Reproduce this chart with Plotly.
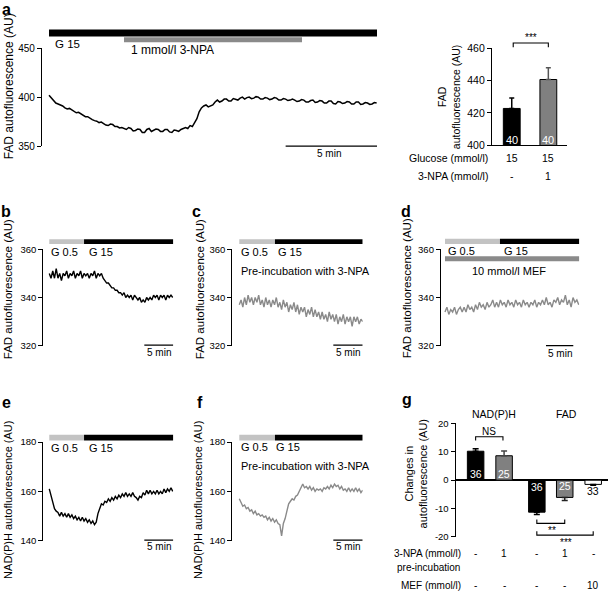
import plotly.graph_objects as go

W, H = 609, 598
FONT = "Liberation Sans, Arial, Helvetica, sans-serif"
BLACK = "#000000"
GREY = "#8a8a8a"
LIGHT = "#c3c3c3"


def fx(p):
    return p / W


def fy(p):
    return 1 - p / H


# ---------------- data ----------------
# Panel a: FAD trace in G15, 1 mmol/l 3-NPA added (sample interval in min)
a_dt = 0.125
a_fad = [402, 399, 397, 394, 393, 392, 391, 389, 388, 388.5,
         387, 385, 384, 384.5, 383, 381, 380, 380, 378, 377,
         376, 375.5, 374, 374.5, 373, 371.5, 371, 372.5, 372, 370,
         370, 368.5, 369, 368, 367, 369, 368, 365.5, 366, 367.5,
         367, 364, 364, 367, 368, 365, 366, 367.5, 367, 365,
         365, 367, 367, 364.5, 364, 366.5, 366, 365, 367, 368,
         369, 368, 371, 370, 374, 378, 385, 389, 391, 392,
         390, 391, 392, 395, 397, 395, 396, 398, 398, 396,
         396, 398.5, 398, 397, 399, 400, 398, 399.5, 400, 398.5,
         399, 400.5, 400, 398, 398, 399.5, 399, 397.5, 398, 399.5,
         399, 397, 397, 398.5, 398, 396.5, 397, 398, 397, 395.5,
         396, 397.5, 397, 395, 395, 396.5, 397, 394.5, 395, 396.5,
         396, 394, 394, 396, 396, 393.5, 393, 395.5, 395, 393.5,
         394, 395.5, 395, 393, 393, 395, 395, 392.5, 393, 394.5,
         394, 392.5, 393, 394.5, 394]
a_g15 = [0.0, 18.02]
a_npa = [4.12, 13.9]
a_scale = [13.0, 18.02]

# Panel a bars
a_bar_mean = [422.7, 440.6]
a_bar_sem = [6.5, 7.2]
a_bar_n = ["40", "40"]
a_glucose = ["15", "15"]
a_npa_row = ["-", "1"]

# Panel b: FAD, G0.5 -> G15
b_dt = 0.3
b_fad = [350, 348, 351, 348, 352, 348, 350, 347, 350, 349,
         351, 348, 350, 349, 351, 348, 350, 349, 351, 348,
         350, 349, 350, 348, 350, 349, 351, 348, 350, 349,
         350, 348, 347, 346, 346, 345, 344, 344, 343, 343,
         342, 342, 341, 342, 340, 341, 340, 341, 339, 341,
         340, 339, 340, 338, 339, 338, 340, 339, 340, 339,
         341, 340, 341, 339, 341, 340, 341, 339, 341, 340,
         341, 340]
b_g05 = [0.0, 6.0]
b_g15 = [6.0, 21.4]
b_scale = [16.4, 21.4]

# Panel c: FAD after pre-incubation with 3-NPA
c_dt = 0.3
c_fad = [337, 339, 336, 340, 337, 341, 338, 340, 337, 340,
         338, 341, 337, 339, 336, 340, 337, 339, 336, 339,
         337, 340, 336, 338, 335, 339, 336, 338, 334, 337,
         335, 338, 334, 337, 333, 336, 334, 336, 332, 335,
         333, 336, 332, 335, 332, 334, 331, 334, 331, 333,
         330, 334, 331, 333, 330, 333, 329, 332, 330, 333,
         329, 332, 330, 332, 328, 332, 330, 332, 329, 331,
         330]
c_g05 = [0.0, 6.07]
c_g15 = [6.07, 21.0]
c_scale = [16.0, 21.0]

# Panel d: FAD with 10 mmol/l MEF
d_dt = 0.35
d_fad = [334, 336, 333, 335, 334, 336, 333, 335, 336, 334,
         336, 334, 337, 335, 336, 334, 337, 335, 338, 336,
         337, 335, 338, 336, 337, 339, 336, 338, 336, 339,
         337, 338, 336, 339, 337, 338, 336, 339, 337, 338,
         336, 339, 337, 338, 336, 338, 337, 339, 336, 338,
         337, 339, 337, 340, 337, 338, 336, 339, 338, 340,
         337, 339, 338, 341, 337, 339, 336, 340, 338, 339,
         337]
d_g05 = [0.0, 10.07]
d_g15 = [10.07, 24.6]
d_mef = [0.0, 24.6]
d_scale = [18.5, 23.5]

# Panel e: NAD(P)H, G0.5 -> G15
e_dt = 0.3
e_nadph = [161, 158, 155, 153, 152, 151.5, 150, 151.5, 150, 151,
           149.5, 151, 149.5, 150.5, 149, 150, 148.5, 149.5, 148, 149.5,
           148, 149, 147.5, 148.5, 147, 148, 146.5, 147.5, 151, 153.5,
           155, 154.5, 156, 155.5, 157, 156, 157.5, 156.5, 158, 157,
           158.5, 157.5, 159, 158, 159.5, 158, 159, 158, 159.5, 158,
           157.5, 156.5, 158, 157.5, 159.5, 158.5, 160.5, 159, 160.5, 159,
           160, 159, 160.5, 159, 160, 159, 161, 159.5, 161, 160,
           161.5, 160]
e_g05 = [0.0, 6.0]
e_g15 = [6.0, 21.4]
e_scale = [16.4, 21.4]

# Panel f: NAD(P)H after pre-incubation with 3-NPA
f_dt = 0.3
f_nadph = [157, 155.5, 154, 154.5, 153, 153.5, 152, 152.5, 151, 152,
           150.5, 151, 150, 150.5, 149.5, 150, 148.5, 149.5, 148, 149,
           147.5, 148.5, 147, 146.5, 142, 147, 149, 152, 155, 156,
           157, 156.5, 158, 158.5, 160, 161, 163, 161.5, 162, 161,
           162, 160.5, 161.5, 160, 161, 160.5, 161, 160, 161.5, 161,
           162, 161, 162.5, 161.5, 163, 162, 162.5, 161, 162, 160.5,
           161, 160, 161.5, 160, 161, 160, 161.5, 160, 161, 159.5,
           160.5]
f_g05 = [0.0, 6.07]
f_g15 = [6.07, 21.0]
f_scale = [16.0, 21.0]

# Panel g: changes in autofluorescence
g_mean = [10.2, 8.6, -11.3, -6.1, -1.5]
g_sem = [0.9, 1.7, 0.8, 1.1, 0.3]
g_n = ["36", "25", "36", "25", "33"]
g_npa_row = ["-", "1", "-", "1", "-"]
g_mef_row = ["-", "-", "-", "-", "10"]
g_ticks = [-20, -10, 0, 10, 20]
g_ticktext = ["-20", "-10", "0", "10", "20"]

# ---------------- styling / layout ----------------
g_pos = [0, 1, 2.15, 3.13, 4.13]
g_fill = [BLACK, "#808080", BLACK, "#808080", "#ffffff"]
g_err_col = [BLACK, "#444444", BLACK, "#222222", BLACK]

fig = go.Figure()


def yax(top, bottom, rng, ticks, anchor, size=9.5, ticktext=None):
    d = dict(domain=[fy(bottom), fy(top)], range=rng, tickvals=ticks,
             showline=True, linecolor=BLACK, linewidth=1.3, ticks="outside",
             ticklen=4, tickwidth=1.3, tickcolor=BLACK, showgrid=False,
             zeroline=False, anchor=anchor, fixedrange=True,
             tickfont=dict(family=FONT, size=size, color=BLACK))
    if ticktext is not None:
        d["ticktext"] = ticktext
    return d


def xax(left, right, rng, anchor, showline=False):
    return dict(domain=[fx(left), fx(right)], range=rng, showline=showline,
                linecolor=BLACK, linewidth=1.3, showticklabels=False,
                ticks="", showgrid=False, zeroline=False, anchor=anchor,
                fixedrange=True)


lay = {}
# a trace
lay["xaxis"] = xax(42, 377, [-0.385, 18.02], "y")
lay["yaxis"] = yax(43, 143, [350, 450], [350, 400, 450], "x", size=10)
# a bars
lay["xaxis2"] = xax(492, 567, [-0.54, 1.51], "y2", showline=True)
lay["yaxis2"] = yax(43, 142, [400, 460], [400, 420, 440, 460], "x2", size=10.5)
# b, c, d
lay["xaxis3"] = xax(43.3, 173.3, [-1.03, 21.4], "y3")
lay["yaxis3"] = yax(248.3, 346.7, [320, 360], [320, 340, 360], "x3")
lay["xaxis4"] = xax(232.3, 362.7, [-1.19, 21.0], "y4")
lay["yaxis4"] = yax(248.3, 346.7, [320, 360], [320, 340, 360], "x4")
lay["xaxis5"] = xax(441, 579.3, [-0.73, 24.6], "y5")
lay["yaxis5"] = yax(248.3, 346.7, [320, 360], [320, 340, 360], "x5")
# e, f
lay["xaxis6"] = xax(43.3, 173.3, [-1.03, 21.4], "y6")
lay["yaxis6"] = yax(445, 545.7, [140, 180], [140, 160, 180], "x6")
lay["xaxis7"] = xax(232.3, 362.7, [-1.19, 21.0], "y7")
lay["yaxis7"] = yax(445, 545.7, [140, 180], [140, 160, 180], "x7")
# g
lay["xaxis8"] = xax(455.7, 608, [-0.70, 4.65], "y8")
lay["yaxis8"] = yax(426, 541.7, [-20, 20], g_ticks, "x8", size=9.5, ticktext=g_ticktext)
lay["yaxis8"]["zeroline"] = True
lay["yaxis8"]["zerolinecolor"] = BLACK
lay["yaxis8"]["zerolinewidth"] = 1.5


def times(dt, vals):
    return [i * dt for i in range(len(vals))]


traces = [
    ("x", "y", a_dt, a_fad, BLACK, 1.5),
    ("x3", "y3", b_dt, b_fad, BLACK, 1.4),
    ("x4", "y4", c_dt, c_fad, GREY, 1.4),
    ("x5", "y5", d_dt, d_fad, GREY, 1.4),
    ("x6", "y6", e_dt, e_nadph, BLACK, 1.4),
    ("x7", "y7", f_dt, f_nadph, GREY, 1.4),
]
for xa, ya, dt, vals, col, lw in traces:
    fig.add_trace(go.Scatter(x=times(dt, vals), y=vals, xaxis=xa, yaxis=ya,
                             mode="lines", line=dict(color=col, width=lw),
                             hoverinfo="skip"))

# panel a bars
a_cols = [BLACK, "#808080"]
a_errc = [BLACK, "#555555"]
for i in range(2):
    fig.add_trace(go.Bar(x=[i], y=[a_bar_mean[i]], xaxis="x2", yaxis="y2", width=0.46,
                         marker=dict(color=a_cols[i], line=dict(color=BLACK, width=1)),
                         error_y=dict(type="data", array=[a_bar_sem[i]], arrayminus=[0],
                                      symmetric=False, color=a_errc[i], thickness=1.5, width=2.5),
                         hoverinfo="skip"))

# panel g bars
for i in range(5):
    up = g_sem[i] if g_mean[i] > 0 else 0
    dn = g_sem[i] if g_mean[i] < 0 else 0
    fig.add_trace(go.Bar(x=[g_pos[i]], y=[g_mean[i]], xaxis="x8", yaxis="y8", width=0.58,
                         marker=dict(color=g_fill[i], line=dict(color=BLACK, width=1)),
                         error_y=dict(type="data", array=[up], arrayminus=[dn],
                                      symmetric=False, color=g_err_col[i], thickness=1.5, width=3),
                         hoverinfo="skip"))

shapes = []


def bar(xref, span, top, bottom, color):
    shapes.append(dict(type="rect", xref=xref, yref="paper", x0=span[0], x1=span[1],
                       y0=fy(bottom), y1=fy(top), fillcolor=color, line=dict(width=0),
                       layer="above"))


def hline(xref, span, ypx, width=1.3):
    shapes.append(dict(type="line", xref=xref, yref="paper", x0=span[0], x1=span[1],
                       y0=fy(ypx), y1=fy(ypx), line=dict(color=BLACK, width=width)))


# stimulus bars
bar("x", a_g15, 24, 31, BLACK)
bar("x", a_npa, 32, 37, GREY)
bar("x3", b_g05, 238, 243, LIGHT)
bar("x3", b_g15, 238, 243, BLACK)
bar("x4", c_g05, 238, 243, LIGHT)
bar("x4", c_g15, 238, 243, BLACK)
bar("x5", d_g05, 237.5, 243, LIGHT)
bar("x5", d_g15, 237.5, 243, BLACK)
bar("x5", d_mef, 255.5, 260.5, GREY)
bar("x6", e_g05, 437.5, 443.5, LIGHT)
bar("x6", e_g15, 437.5, 443.5, BLACK)
bar("x7", f_g05, 437.5, 443.5, LIGHT)
bar("x7", f_g15, 437.5, 443.5, BLACK)

# scale bars
hline("x", a_scale, 143)
hline("x3", b_scale, 346)
hline("x4", c_scale, 346)
hline("x5", d_scale, 346.5)
hline("x6", e_scale, 545)
hline("x7", f_scale, 545)


def bracket(xref, x0, x1, yline, yleg):
    path = "M {a},{b} L {a},{c} L {d},{c} L {d},{b}".format(a=x0, b=fy(yleg), c=fy(yline), d=x1)
    shapes.append(dict(type="path", xref=xref, yref="paper", path=path,
                       line=dict(color=BLACK, width=1.1)))


bracket("x2", 0.04, 1.0, 37.7, 42)
bracket("x8", g_pos[0], g_pos[1] - 0.04, 439.5, 443.5)
bracket("x8", g_pos[2], g_pos[3], 528, 524)
bracket("x8", g_pos[2], g_pos[4], 540, 536)

anns = []


def ann(text, x, y, size=10, xanchor="center", yanchor="middle", color=BLACK,
        angle=0, bold=False, xref="paper"):
    if xref == "paper":
        x = fx(x)
    if bold:
        text = "<b>" + text + "</b>"
    anns.append(dict(text=text, x=x, y=fy(y), xref=xref, yref="paper",
                     xanchor=xanchor, yanchor=yanchor, showarrow=False,
                     textangle=angle, borderpad=0,
                     font=dict(family=FONT, size=size, color=color)))


# panel letters
for letter, lx, ly in [("a", 6, 4), ("b", 6, 210), ("c", 196, 210), ("d", 406, 210),
                       ("e", 6, 405), ("f", 200, 405), ("g", 407, 402)]:
    ann(letter, lx, ly, size=16, bold=True)

# y titles
ann("FAD autofluorescence (AU)", 9, 82, size=12, angle=-90)
ann("FAD<br>autofluorescence (AU)", 449, 93, size=10.5, angle=-90)
ann("FAD autofluorescence (AU)", 8, 289, size=11.5, angle=-90)
ann("FAD autofluorescence (AU)", 200, 289, size=11.5, angle=-90)
ann("FAD autofluorescence (AU)", 407, 288, size=11.5, angle=-90)
ann("NAD(P)H autofluorescence (AU)", 8, 504, size=11, angle=-90)
ann("NAD(P)H autofluorescence (AU)", 198, 504, size=11, angle=-90)
ann("Changes in<br>autofluorescence (AU)", 416, 478, size=11, angle=-90)

# panel a text
ann("G 15", 54, 39, size=11.5, xanchor="left")
ann("1 mmol/l 3-NPA", 130, 45, size=12, xanchor="left")
ann("5 min", 329, 151, size=10)
for i in range(2):
    ann(a_bar_n[i], i, 136.5, size=11, color="#ffffff", xref="x2")
    ann(a_glucose[i], i, 155, size=10.5, xref="x2")
    ann(a_npa_row[i], i, 173, size=10.5, xref="x2")
ann("Glucose (mmol/l)", 489, 155, size=10.5, xanchor="right")
ann("3-NPA (mmol/l)", 489, 173, size=10.5, xanchor="right")
ann("***", 531, 32, size=10)

# panels b-f text
ann("G 0.5", 50, 251.5, size=11, xanchor="left")
ann("G 15", 87.5, 251.5, size=11, xanchor="left")
ann("5 min", 159, 353.5, size=10)
ann("G 0.5", 240, 251.5, size=11, xanchor="left")
ann("G 15", 277, 251.5, size=11, xanchor="left")
ann("Pre-incubation with 3-NPA", 240, 270.5, size=11, xanchor="left")
ann("5 min", 348, 353.5, size=10)
ann("G 0.5", 447, 250, size=11, xanchor="left")
ann("G 15", 503, 250, size=11, xanchor="left")
ann("10 mmol/l MEF", 509, 270.5, size=11)
ann("5 min", 560, 355, size=10)
ann("G 0.5", 50, 451, size=11, xanchor="left")
ann("G 15", 88, 451, size=11, xanchor="left")
ann("5 min", 159, 552, size=10)
ann("G 0.5", 240, 450, size=11, xanchor="left")
ann("G 15", 275, 450, size=11, xanchor="left")
ann("Pre-incubation with 3-NPA", 240, 469, size=11, xanchor="left")
ann("5 min", 348, 551.5, size=10)

# panel g text
ann("NAD(P)H", 494, 416.5, size=10.5)
ann("FAD", 566, 416.5, size=10.5)
ann("NS", 489, 434, size=10)
ann("**", 552, 535, size=10)
ann("***", 566, 547, size=10)
g_lab_y = [478, 478, 491, 490, 495]
g_lab_c = ["#ffffff", "#ffffff", "#ffffff", "#ffffff", BLACK]
for i in range(5):
    ann(g_n[i], g_pos[i], g_lab_y[i], size=10.5, color=g_lab_c[i], xref="x8")
    ann(g_npa_row[i], g_pos[i], 559, size=10, xref="x8")
    ann(g_mef_row[i], g_pos[i], 591, size=10, xref="x8")
ann("3-NPA (mmol/l)", 462, 559, size=10, xanchor="right")
ann("pre-incubation", 461, 573, size=10, xanchor="right")
ann("MEF (mmol/l)", 462, 591, size=10, xanchor="right")

fig.update_layout(**lay)
fig.update_layout(width=W, height=H, margin=dict(l=0, r=0, t=0, b=0),
                  paper_bgcolor="white", plot_bgcolor="white", showlegend=False,
                  barmode="overlay", shapes=shapes, annotations=anns,
                  font=dict(family=FONT, color=BLACK))

fig.write_html("out.html", config={"displayModeBar": False},
               post_script="document.body.style.margin='0';document.body.style.overflow='hidden';")
